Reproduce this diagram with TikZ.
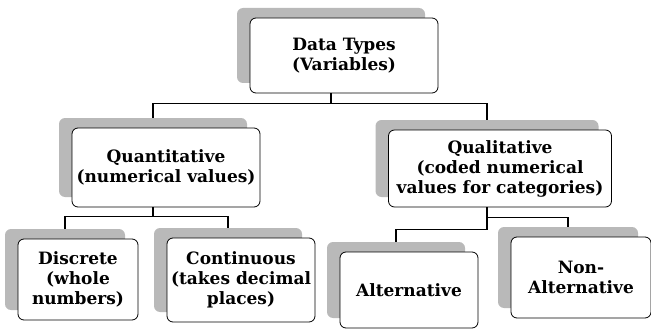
\documentclass[tikz,border=0pt]{standalone}
\usepackage{fontspec}
\setmainfont{DejaVu Serif}
\usetikzlibrary{shadows}
\begin{document}
\begin{tikzpicture}[x=1pt,y=-1pt,semithick]
\tikzstyle{box}=[rectangle, rounded corners=6pt, draw, fill=white, line width=.8pt, align=center, inner sep=1pt, font=\fontsize{17}{20}\selectfont\bfseries, general shadow={fill=gray!55, shadow xshift=-13pt, shadow yshift=10pt}]
\tikzstyle{ed}=[draw=black, line width=1.2pt]
\useasboundingbox (0,0) rectangle (651,329);
% vertices
\node[box, minimum width=188pt, minimum height=75pt] (types) at (344,55.5) {Data Types\\(Variables)};
\node[box, minimum width=188pt, minimum height=79pt] (quant) at (166,167.5) {Quantitative\\(numerical values)};
\node[box, minimum width=223pt, minimum height=77pt] (qual) at (500,168.5) {Qualitative\\(coded numerical\\values for categories)};
\node[box, minimum width=120pt, minimum height=81pt] (disc) at (78,279.5) {Discrete\\(whole\\numbers)};
\node[box, minimum width=148pt, minimum height=84pt] (cont) at (241,280) {Continuous\\(takes decimal\\places)};
\node[box, minimum width=138pt, minimum height=76pt] (alt) at (409,290) {Alternative};
\node[box, minimum width=140pt, minimum height=81pt] (nonalt) at (581,277.5) {Non-\\Alternative};
% edges
\draw[ed] ([xshift=-13pt]types.south) -- ++(0,10) coordinate (j1);
\draw[ed] (j1) -| ([xshift=-13pt,yshift=10pt]quant.north);
\draw[ed] (j1) -| ([xshift=-13pt,yshift=10pt]qual.north);
\draw[ed] ([xshift=-13pt]quant.south) -- ++(0,9) coordinate (j2);
\draw[ed] (j2) -| ([xshift=-13pt,yshift=10pt]disc.north);
\draw[ed] (j2) -| ([xshift=-13pt,yshift=10pt]cont.north);
\draw[ed] ([xshift=-13pt]qual.south) -- ++(0,22) coordinate (j3) -| ([xshift=-13pt,yshift=10pt]alt.north);
\draw[ed] ([xshift=-13pt]qual.south) ++(0,10) coordinate (j4) -| ([xshift=-13pt,yshift=10pt]nonalt.north);
\end{tikzpicture}
\end{document}
